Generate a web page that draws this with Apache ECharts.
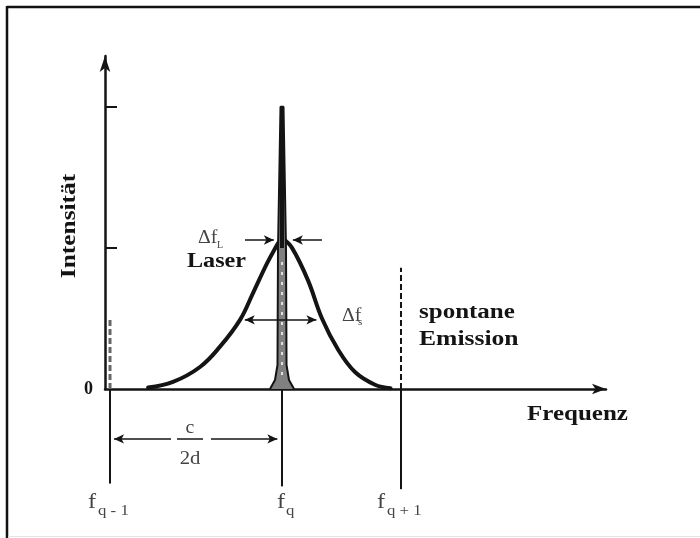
<!DOCTYPE html>
<html>
<head>
<meta charset="utf-8">
<script src="https://cdn.jsdelivr.net/npm/echarts@6/dist/echarts.min.js"></script>
<style>html,body{margin:0;padding:0;background:#fff}#c{width:700px;height:538px}</style>
</head>
<body>
<div id="c"></div>
<script>
// ---- data (frequency in arbitrary units, intensity in arbitrary units) ----
const modeFreqs = [1.0, 35.33, 59.08];          // f(q-1), f(q), f(q+1)
const modeLabels = ['q - 1', 'q', 'q + 1'];
// spontaneous-emission profile, left and right flank (they meet at the laser line)
const gaussLeftX = [8.6, 13.57, 18.96, 22.95, 26.95, 29.54, 32.34, 34.33, 35.1];
const gaussLeftY = [0.01, 0.05, 0.156, 0.30, 0.49, 0.68, 0.89, 1.02, 1.065];
const gaussRightX = [35.5, 37.33, 40.52, 43.31, 46.51, 49.9, 53.89, 57.0];
const gaussRightY = [1.065, 1.0, 0.77, 0.50, 0.28, 0.12, 0.03, 0.005];
const spikeX = [32.93, 33.93, 34.43, 34.53, 35.03, 35.63, 36.13, 36.23, 36.73, 37.73];
const spikeY = [0, 0.064, 0.17, 0.985, 2.0, 2.0, 0.985, 0.17, 0.064, 0];
const spikeTop = [1.0, 2.0];
const dashedTops = [0.51, 0.86];                 // dashed lines at f(q-1) and f(q+1)
const belowEnds = [-0.67, -0.69, -0.71];         // solid lines below the axis
const laserArrowY = 1.056;
const laserArrows = [[27.94, 33.7], [43.31, 37.5]];
const spontArrowY = 0.49;
const spontArrow = [27.9, 42.2];
const fsrArrowY = -0.354;
const fsrLeft = [13.17, 1.8];
const fsrBar = [14.37, 19.56];
const fsrRight = [21.16, 34.4];
const yTickValues = [1, 2];
const yTickLabels = ['0'];
const yLabelValues = [0];

const ink = '#141414';
const grey = '#444';
const serif = '"Liberation Serif", "Times New Roman", serif';

function pts(xs, ys) { return xs.map((x, i) => [x, ys[i]]); }

const series = [];
// Gaussian (spontaneous emission)
[[gaussLeftX, gaussLeftY], [gaussRightX, gaussRightY]].forEach(g => {
  series.push({
    type: 'line', data: pts(g[0], g[1]), smooth: 0.4,
    symbol: 'none', lineStyle: { color: ink, width: 4, cap: 'round' }, z: 3, clip: false
  });
});
// Laser line
series.push({
  type: 'line', data: pts(spikeX, spikeY), smooth: false, symbol: 'none',
  lineStyle: { color: ink, width: 2 }, areaStyle: { color: '#808080', opacity: 1 }, z: 4, clip: false
});
series.push({
  type: 'line', data: [[modeFreqs[1], spikeTop[0]], [modeFreqs[1], spikeTop[1]]], symbol: 'none',
  lineStyle: { color: ink, width: 4 }, z: 5, clip: false
});
series.push({
  type: 'line', data: [[modeFreqs[1], 0.1], [modeFreqs[1], 0.95]], symbol: 'none',
  lineStyle: { color: '#fff', width: 1.5, type: [3, 7] }, z: 5, clip: false
});
// dashed lines
series.push({
  type: 'line', data: [[modeFreqs[0], 0], [modeFreqs[0], dashedTops[0]]], symbol: 'none',
  lineStyle: { color: '#666', width: 3, type: [6, 3] }, z: 2, clip: false
});
series.push({
  type: 'line', data: [[modeFreqs[2], 0], [modeFreqs[2], dashedTops[1]]], symbol: 'none',
  lineStyle: { color: ink, width: 2, type: [6, 3] }, z: 2, clip: false
});
// solid lines below the axis (drawn in the lower grid)
modeFreqs.forEach((f, i) => {
  series.push({
    type: 'line', xAxisIndex: 1, yAxisIndex: 1, data: [[f, 0], [f, belowEnds[i]]], symbol: 'none',
    lineStyle: { color: ink, width: 2 }, z: 2, clip: false
  });
});
// arrows
function arrow(x1, y1, x2, y2, s1, s2) {
  return [{ coord: [x1, y1], symbol: s1 }, { coord: [x2, y2], symbol: s2 }];
}
const mlBase = {
  silent: true, animation: false, symbolSize: [7, 10],
  label: { show: false },
  lineStyle: { color: ink, width: 1.5, type: 'solid' }
};
series.push({
  type: 'line', data: [], clip: false, z: 6,
  markLine: Object.assign({}, mlBase, {
    data: [
      arrow(laserArrows[0][0], laserArrowY, laserArrows[0][1], laserArrowY, 'none', 'arrow'),
      arrow(laserArrows[1][0], laserArrowY, laserArrows[1][1], laserArrowY, 'none', 'arrow'),
      arrow(spontArrow[0], spontArrowY, spontArrow[1], spontArrowY, 'arrow', 'arrow')
    ]
  })
});
series.push({
  type: 'line', xAxisIndex: 1, yAxisIndex: 1, data: [], clip: false, z: 6,
  markLine: Object.assign({}, mlBase, {
    data: [
      arrow(fsrLeft[0], fsrArrowY, fsrLeft[1], fsrArrowY, 'none', 'arrow'),
      arrow(fsrBar[0], fsrArrowY, fsrBar[1], fsrArrowY, 'none', 'none'),
      arrow(fsrRight[0], fsrArrowY, fsrRight[1], fsrArrowY, 'none', 'arrow')
    ]
  })
});

function txt(text, x, y, size, opts) {
  opts = opts || {};
  return {
    type: 'text', x: x, y: y, scaleX: opts.sx || 1.25, rotation: opts.rot || 0, z: 10,
    style: {
      text: text, fill: opts.fill || grey,
      font: (opts.bold ? 'bold ' : '') + size + 'px ' + serif,
      textAlign: opts.align || 'left', textVerticalAlign: 'middle'
    }
  };
}

const graphics = [
  { type: 'line', shape: { x1: 7, y1: 7, x2: 700, y2: 7 }, style: { stroke: '#111', lineWidth: 2.5 } },
  { type: 'line', shape: { x1: 7, y1: 6, x2: 7, y2: 538 }, style: { stroke: '#111', lineWidth: 2.5 } },
  { type: 'line', shape: { x1: 8, y1: 536.5, x2: 700, y2: 536.5 }, style: { stroke: '#e4e4e4', lineWidth: 1 } },
  txt('Intensität', 70, 226, 20, { bold: true, fill: ink, rot: Math.PI / 2, align: 'center', sx: 1.27 }),
  txt('Frequenz', 527, 415, 20, { bold: true, fill: ink }),
  txt('spontane', 419, 313, 20, { bold: true, fill: ink }),
  txt('Emission', 419, 340, 20, { bold: true, fill: ink, sx: 1.28 }),
  txt('Laser', 187, 262, 21, { bold: true, fill: ink, sx: 1.15 }),
  txt('Δf', 198, 238, 18, { sx: 1.1 }),
  txt('L', 217, 245, 10, { sx: 1 }),
  txt('Δf', 342, 316, 18, { sx: 1.1 }),
  txt('s', 358, 322, 11, { sx: 1 }),
  txt('c', 190, 428, 18, { align: 'center', sx: 1.1 }),
  txt('2d', 190, 459, 18, { align: 'center', sx: 1.15 }),
  txt('f', 88, 502, 22, { sx: 1.1 }),
  txt(modeLabels[0], 98, 511, 14, { sx: 1.2 }),
  txt('f', 277, 502, 22, { sx: 1.1 }),
  txt(modeLabels[1], 286, 511, 14, { sx: 1.2 }),
  txt('f', 377, 502, 22, { sx: 1.1 }),
  txt(modeLabels[2], 387, 511, 14, { sx: 1.2 })
];

const hiddenAxis = { show: false, axisLine: { show: false }, axisTick: { show: false }, axisLabel: { show: false }, splitLine: { show: false } };

const chart = echarts.init(document.getElementById('c'), null, { renderer: 'canvas' });
chart.setOption({
  animation: false,
  backgroundColor: '#fff',
  grid: [
    { left: 105, right: 94, top: 56, bottom: 149 },
    { left: 105, right: 94, top: 389, bottom: 0 }
  ],
  xAxis: [{
    type: 'value', min: 0, max: 100, gridIndex: 0,
    axisLine: { show: true, symbol: ['none', 'arrow'], symbolSize: [8, 14], lineStyle: { color: ink, width: 2.5 } },
    axisTick: { show: false }, axisLabel: { show: false }, splitLine: { show: false }
  }, Object.assign({ type: 'value', min: 0, max: 100, gridIndex: 1 }, hiddenAxis)],
  yAxis: [{
    type: 'value', min: 0, max: 2.36, gridIndex: 0,
    axisLine: { show: true, symbol: ['none', 'arrow'], symbolSize: [8, 16], lineStyle: { color: ink, width: 2.5 } },
    axisTick: { show: true, inside: true, length: 12, customValues: yTickValues, lineStyle: { color: ink, width: 2 } },
    axisLabel: {
      show: true, customValues: yLabelValues, margin: 12,
      formatter: (v) => (v === 0 ? yTickLabels[0] : ''),
      fontFamily: serif, fontWeight: 'bold', fontSize: 18, color: ink, padding: [0, 0, 5, 0]
    },
    splitLine: { show: false }
  }, Object.assign({ type: 'value', min: -1.056, max: 0, gridIndex: 1 }, hiddenAxis)],
  series: series,
  graphic: graphics
});
</script>
</body>
</html>
